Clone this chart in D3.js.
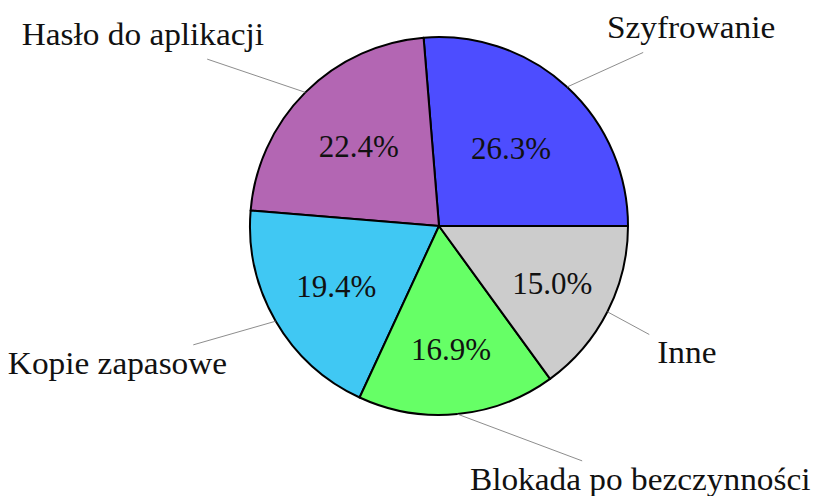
<!DOCTYPE html>
<html>
<head>
<meta charset="utf-8">
<script src="https://cdn.jsdelivr.net/npm/d3@7"></script>
<style>
  body { margin: 0; background: #fff; }
  text { font-family: "Liberation Serif", "Times New Roman", "DejaVu Serif", serif; fill: #111; }
</style>
</head>
<body>
<div id="chart"></div>
<script>
// data, counterclockwise from 3 o'clock
const labels = ['Szyfrowanie', 'Hasło do aplikacji', 'Kopie zapasowe', 'Blokada po bezczynności', 'Inne'];
const values = [26.3, 22.4, 19.4, 16.9, 15.0];
const colors = ['#4d4dff', '#b366b3', '#40c8f3', '#66ff66', '#cccccc'];

const svgWidth = 813;
const svgHeight = 496;
const cx = 439, cy = 226, radius = 189;
const fontSize = 31;
const innerSep = 8;     // padding of the label box
const pinDist = 47;     // distance from rim to label box corner
const widen = 1.075;    // the original serif runs a bit wider than Times

const svg = d3.select('#chart')
  .append('svg')
  .attr('width', svgWidth)
  .attr('height', svgHeight);

const g = svg.append('g')
  .attr('transform', `translate(${cx}, ${cy})`);

// d3 angles go clockwise from 12 o'clock, so run backwards from pi/2
const pie = d3.pie()
  .sort(null)
  .value(d => d)
  .startAngle(Math.PI / 2)
  .endAngle(Math.PI / 2 - 2 * Math.PI);

const arc = d3.arc().innerRadius(0).outerRadius(radius);
const slices = pie(values);

g.selectAll('path.slice')
  .data(slices)
  .enter().append('path')
  .attr('class', 'slice')
  .attr('d', arc)
  .attr('fill', (d, i) => colors[i])
  .attr('stroke', '#000')
  .attr('stroke-width', 2)
  .attr('stroke-linejoin', 'round');

// mid angle in usual math sense (ccw from east, radians)
const midAngle = d => Math.PI / 2 - (d.startAngle + d.endAngle) / 2;

// percentage labels, placed like pgf-pie does
slices.forEach((d, i) => {
  const span = Math.abs(d.endAngle - d.startAngle) * 180 / Math.PI;
  const k = Math.max(Math.min(span / 110 * -0.3, 0), -0.5) + 0.82;
  const a = midAngle(d);
  const x = k * radius * Math.cos(a);
  const y = -k * radius * Math.sin(a) + 0.347 * fontSize;
  g.append('text')
    .attr('x', x)
    .attr('y', y)
    .attr('text-anchor', 'middle')
    .attr('font-size', fontSize)
    .text(values[i].toFixed(1) + '%');
});

// outside labels with pin lines
const pins = g.append('g').attr('class', 'pins');
slices.forEach((d, i) => {
  const a = midAngle(d);
  const deg = ((a * 180 / Math.PI) % 360 + 360) % 360;
  const px = radius * Math.cos(a), py = -radius * Math.sin(a);
  const qx = px + pinDist * Math.cos(a), qy = py - pinDist * Math.sin(a);

  const t = g.append('text')
    .attr('font-size', fontSize)
    .text(labels[i]);
  const tw = t.node().getComputedTextLength() * widen;
  t.attr('textLength', tw).attr('lengthAdjust', 'spacingAndGlyphs');
  const w = tw + 2 * innerSep;
  const h = (0.694 + 0.194) * fontSize + 2 * innerSep;

  // corner of the box that sits on the pin end
  let left, top;
  if (deg < 90) { left = qx; top = qy - h; }
  else if (deg < 180) { left = qx - w; top = qy - h; }
  else if (deg < 270) { left = qx - w; top = qy; }
  else { left = qx; top = qy; }

  t.attr('x', left + innerSep)
    .attr('y', top + innerSep + 0.694 * fontSize);

  // line from rim point towards box centre, stopped at the box border
  const bx = left + w / 2, by = top + h / 2;
  const vx = px - bx, vy = py - by;
  const s = Math.min((w / 2) / Math.abs(vx), (h / 2) / Math.abs(vy));
  pins.append('line')
    .attr('x1', px).attr('y1', py)
    .attr('x2', bx + vx * s).attr('y2', by + vy * s)
    .attr('stroke', '#808080')
    .attr('stroke-width', 0.9);
});
</script>
</body>
</html>
